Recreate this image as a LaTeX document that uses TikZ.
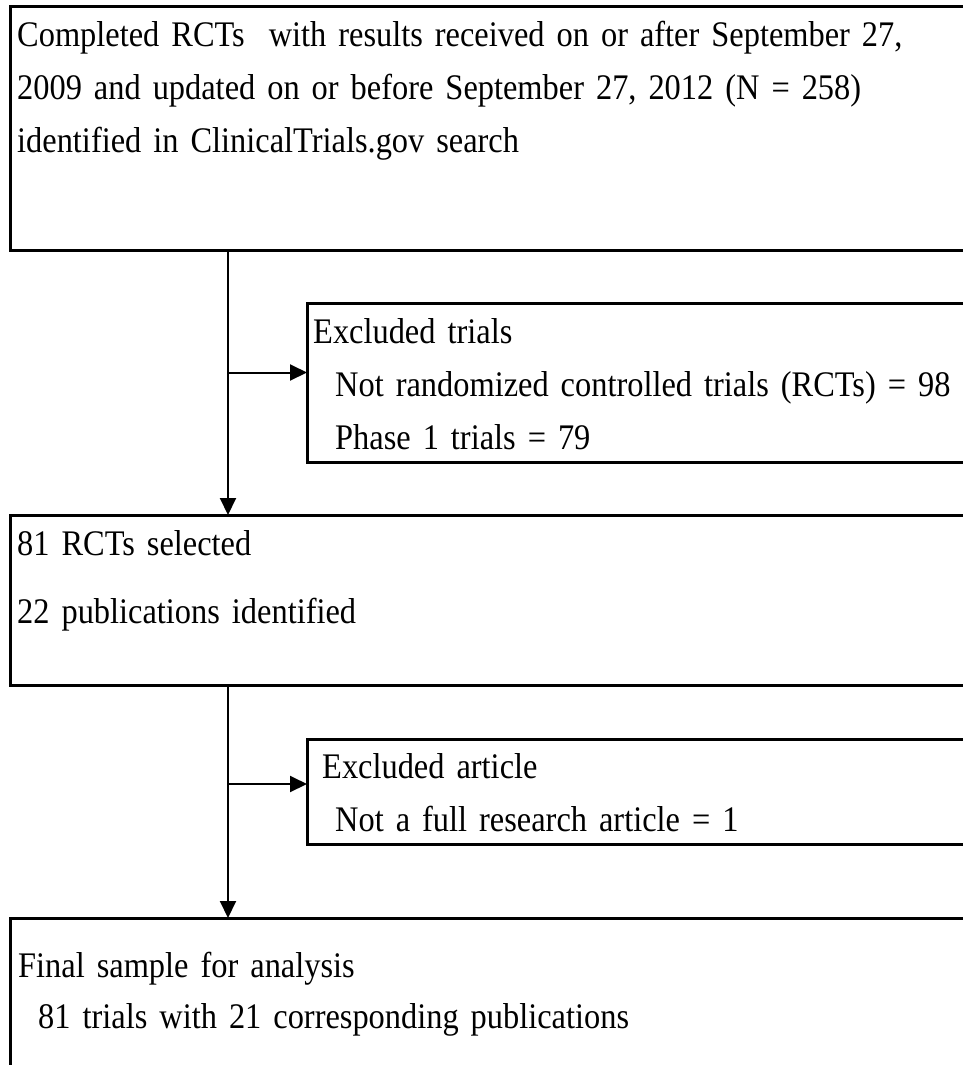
\documentclass[tikz,border=0pt]{standalone}
\usepackage{fontspec}
\setmainfont{Liberation Serif}[FakeStretch=0.9, WordSpace=0.85]
\usetikzlibrary{arrows.meta,positioning,calc}

\begin{document}
\begin{tikzpicture}[x=1pt, y=-1pt,
  box/.style={draw, line width=3pt, anchor=north west, inner sep=0pt, outer sep=0pt, minimum width=985pt},
  note/.style={anchor=base west, inner sep=0pt, text width=1100pt, align=left, font=\fontsize{36}{53}\selectfont},
  arr/.style={line width=2pt, -{Triangle[length=17pt, width=16pt]}}]
  \useasboundingbox (0,0) rectangle (962,1065);

  \node[box, minimum height=243pt] (search) at (10,7) {};
  \node[box, minimum width=700pt, minimum height=159pt] (excl1) at (307,303) {};
  \node[box, minimum height=170pt] (selected) at (10,515) {};
  \node[box, minimum width=700pt, minimum height=105pt] (excl2) at (307,739) {};
  \node[box, minimum height=200pt] (final) at (10,918) {};

  \node[note] (searchtxt) at (17,47) {Completed RCTs\ \ with results received on or after September 27,\\2009 and updated on or before September 27, 2012 (N = 258)\\identified in ClinicalTrials.gov search};
  \node[note] (excl1txt) at (313,343) {Excluded trials\\\hspace*{22pt}Not randomized controlled trials (RCTs) = 98\\\hspace*{22pt}Phase 1 trials = 79};
  \node[note] (selectedtxt) at (17,555) {81 RCTs selected\\[15pt]22 publications identified};
  \node[note] (excl2txt) at (322,778) {Excluded article\\\hspace*{13pt}Not a full research article = 1};
  \node[note] (finaltxt) at (18,977) {Final sample for analysis\\[-2pt]\hspace*{20pt}81 trials with 21 corresponding publications};

  \coordinate (trunk1) at ([xshift=218pt]search.south west);
  \coordinate (in1) at ([yshift=10pt]excl1.west);
  \coordinate (trunk2) at ([xshift=218pt]selected.south west);
  \coordinate (in2) at ([yshift=7.5pt]excl2.west);

  \draw[arr] (trunk1) -- (trunk1 |- selected.north);
  \draw[arr] (trunk1 |- in1) -- (in1);
  \draw[arr] (trunk2) -- (trunk2 |- final.north);
  \draw[arr] (trunk2 |- in2) -- (in2);
\end{tikzpicture}
\end{document}
